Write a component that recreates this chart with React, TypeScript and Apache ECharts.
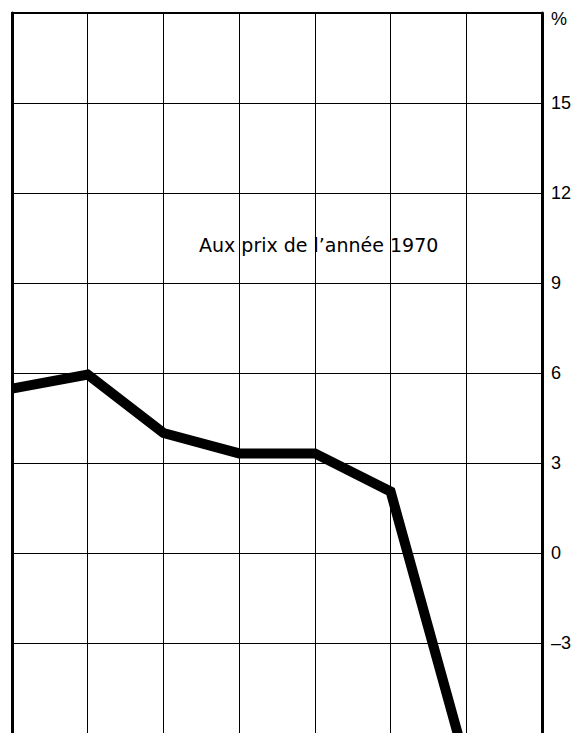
import React, { useEffect, useRef } from "react";
import * as echarts from "echarts";

// x positions (columns of the grid) and the series values
const xIndex: number[] = [0, 1, 2, 3, 4, 5, 6];
const growth: number[] = [5.48, 5.95, 4.0, 3.32, 3.32, 2.05, -7.05];
const yTicks: number[] = [-6, -3, 0, 3, 6, 9, 12, 15, 18];
const annotation = "Aux prix de l\u2019ann\u00e9e 1970";

export default function App() {
  const ref = useRef<HTMLDivElement>(null);
  useEffect(() => {
    if (!ref.current) return;
    const chart = echarts.init(ref.current, undefined, { renderer: "svg" });
    const font = "'Liberation Sans', Arial, Helvetica, sans-serif";
    chart.setOption({
      animation: false,
      backgroundColor: "#ffffff",
      grid: { left: 12, right: 42, top: 13, bottom: -1, containLabel: false },
      xAxis: [
        {
          type: "value",
          min: 0,
          max: 7,
          interval: 1,
          position: "top",
          axisLine: { show: true, onZero: false, lineStyle: { color: "#000", width: 2 } },
          axisTick: { show: false },
          axisLabel: { show: false },
          splitLine: { show: true, lineStyle: { color: "#000", width: 1 } },
        },
      ],
      yAxis: [
        {
          type: "value",
          min: -6,
          max: 18,
          interval: 3,
          position: "right",
          axisLine: { show: true, onZero: false, lineStyle: { color: "#000", width: 3 } },
          axisTick: { show: false },
          axisLabel: {
            show: true,
            margin: 9,
            color: "#000",
            fontSize: 18,
            fontFamily: font,
            formatter: (v: number) => {
              if (v === yTicks[yTicks.length - 1]) return "{p|%}";
              if (v === yTicks[0]) return "";
              return v < 0 ? "\u2013" + Math.abs(v) : String(v);
            },
            rich: {
              p: { fontSize: 18, fontFamily: font, color: "#000", padding: [12, 0, 0, 0] },
            },
          },
          splitLine: { show: true, lineStyle: { color: "#000", width: 1 } },
        },
        {
          type: "value",
          min: -6,
          max: 18,
          interval: 3,
          position: "left",
          axisLine: { show: true, onZero: false, lineStyle: { color: "#000", width: 3 } },
          axisTick: { show: false },
          axisLabel: { show: false },
          splitLine: { show: false },
        },
      ],
      series: [
        {
          type: "line",
          data: xIndex.map((x, i) => [x, growth[i]]),
          showSymbol: false,
          symbol: "none",
          clip: true,
          lineStyle: { color: "#000", width: 10, join: "miter", cap: "butt" },
        },
      ],
      graphic: [
        {
          type: "text",
          x: 199,
          y: 245,
          style: {
            text: annotation,
            fill: "#000",
            font: "19px 'DejaVu Sans', sans-serif",
            verticalAlign: "middle",
            align: "left",
          },
        },
      ],
    });
    return () => chart.dispose();
  }, []);
  return (
    <div
      ref={ref}
      style={{ position: "fixed", left: 0, top: 0, width: 584, height: 733, background: "#fff" }}
    />
  );
}
